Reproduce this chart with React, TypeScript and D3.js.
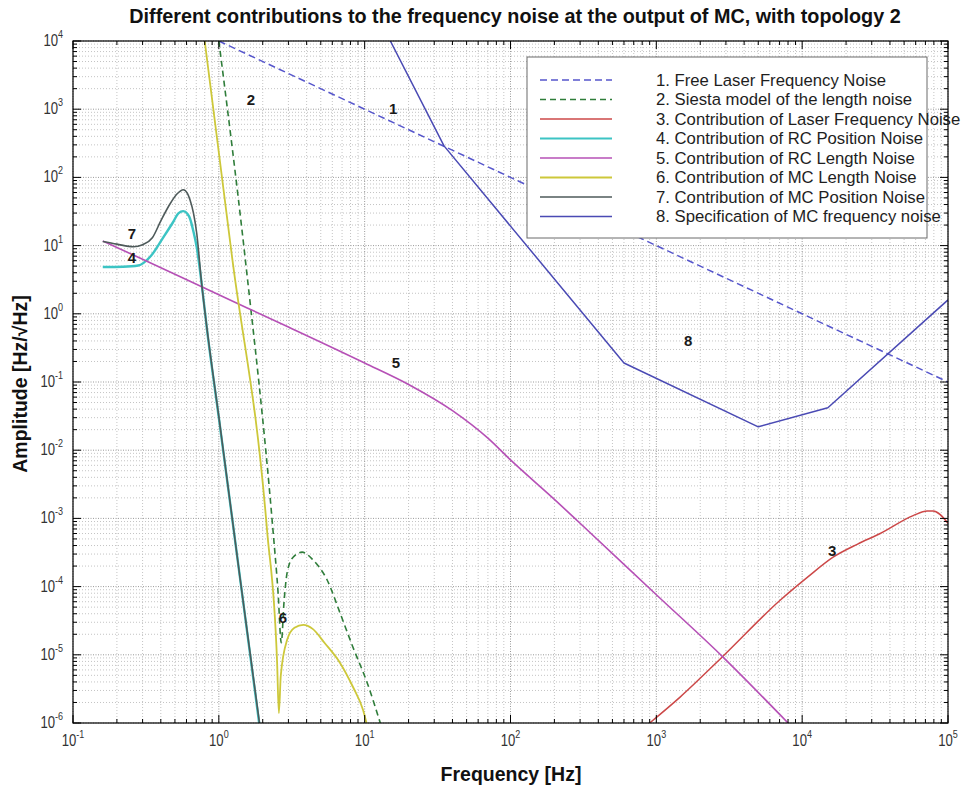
import React from 'react';
import * as d3 from 'd3';

type Pt = [number, number];

// ---- data (frequency [Hz], amplitude [Hz/sqrt(Hz)]) ----
const freeLaserNoise: Pt[] = [[1, 1e4], [10, 1e3], [100, 100], [1e3, 10], [1e4, 1], [1e5, 0.1]];

const siestaLengthNoise: Pt[] = [
  [1.0, 1e4], [1.51, 7], [2.35, 6.8e-4], [2.55, 8e-5], [2.68, 1.5e-5], [2.8, 6e-5],
  [2.94, 1.6e-4], [3.23, 2.7e-4], [3.72, 3.2e-4], [4.43, 2.45e-4], [5.52, 1.26e-4],
  [6.78, 4.1e-5], [8.3, 1.3e-5], [10.4, 3.9e-6], [12.8, 1e-6],
];

const laserFreqContribution: Pt[] = [
  [900, 1e-6], [1455, 2.4e-6], [2830, 9.3e-6], [7060, 6.3e-5], [11000, 1.4e-4],
  [16300, 2.7e-4], [24000, 4.2e-4], [34300, 6.0e-4], [57700, 1.1e-3], [72000, 1.28e-3],
  [79000, 1.28e-3], [1e5, 8.5e-4],
];

const rcPositionContribution: Pt[] = [
  [0.16, 4.85], [0.22, 4.9], [0.28, 5.1], [0.337, 6.8], [0.414, 13], [0.485, 22],
  [0.53, 30], [0.57, 32], [0.61, 29], [0.634, 25], [0.67, 16], [0.705, 9.5],
  [0.762, 2.8], [0.83, 0.58], [1.0, 0.03], [1.4, 1.3e-4], [1.89, 1e-6],
];

const rcLengthContribution: Pt[] = [
  [0.16, 11.7], [0.3, 6.3], [1, 1.9], [3, 0.64], [10, 0.19], [20, 0.092], [40, 0.038],
  [70, 0.015], [100, 7.2e-3], [200, 1.9e-3], [300, 8.5e-4], [1000, 7.6e-5],
  [2830, 9.5e-6], [8000, 1e-6],
];

const mcLengthContribution: Pt[] = [
  [0.8, 1e4], [1.23, 7], [2.14, 6.8e-4], [2.51, 7.6e-6], [2.58, 1.4e-6], [2.66, 5e-6],
  [2.94, 1.66e-5], [3.3, 2.5e-5], [3.8, 2.75e-5], [4.4, 2.4e-5], [5.3, 1.5e-5],
  [6.78, 7.6e-6], [8.3, 3.4e-6], [9.75, 1.55e-6], [10.3, 1e-6],
];

const mcPositionContribution: Pt[] = [
  [0.16, 11.5], [0.2, 10.5], [0.26, 9.6], [0.3, 10.3], [0.35, 13], [0.4, 23],
  [0.46, 40], [0.52, 58], [0.57, 66], [0.61, 58], [0.634, 47], [0.67, 30],
  [0.705, 15.3], [0.762, 2.8], [0.83, 0.6], [1.0, 0.031], [1.4, 1.3e-4], [1.9, 1e-6],
];

const mcSpecification: Pt[] = [
  [15, 1e4], [35, 290], [600, 0.19], [5000, 0.022], [15000, 0.042], [1e5, 1.6],
];

const legendLabels = [
  '1. Free Laser Frequency Noise',
  '2. Siesta model of the length noise',
  '3. Contribution of Laser Frequency Noise',
  '4. Contribution of RC Position Noise',
  '5. Contribution of RC Length Noise',
  '6. Contribution of MC Length Noise',
  '7. Contribution of MC Position Noise',
  '8. Specification of MC frequency noise',
];

const curveTags = ['1', '2', '3', '4', '5', '6', '7', '8'];
const curveTagPoints: Pt[] = [
  [15.7, 1040], [1.66, 1410], [16070, 3.44e-4], [0.254, 6.8],
  [16.4, 0.196], [2.75, 3.47e-5], [0.254, 14.8], [1652, 0.4],
];

const xTickExponents = [-1, 0, 1, 2, 3, 4, 5];
const yTickExponents = [-6, -5, -4, -3, -2, -1, 0, 1, 2, 3, 4];

const titleText = 'Different contributions to the frequency noise at the output of MC, with topology 2';
const xLabel = 'Frequency [Hz]';
const yLabel = 'Amplitude [Hz/\u221AHz]';

// ---- styles ----
const seriesStyle = [
  { data: freeLaserNoise, color: '#5656cc', dash: '7 4', width: 1.5, smooth: false },
  { data: siestaLengthNoise, color: '#2f7d3a', dash: '6 4', width: 1.6, smooth: true },
  { data: laserFreqContribution, color: '#cc4848', dash: null, width: 1.5, smooth: true },
  { data: rcPositionContribution, color: '#3cc4c4', dash: null, width: 2.4, smooth: true },
  { data: rcLengthContribution, color: '#b650b6', dash: null, width: 1.6, smooth: true },
  { data: mcLengthContribution, color: '#cdc83a', dash: null, width: 1.8, smooth: true },
  { data: mcPositionContribution, color: '#4e5a5a', dash: null, width: 1.6, smooth: true },
  { data: mcSpecification, color: '#4a4ab4', dash: null, width: 1.5, smooth: false },
];

const FONT = '"Liberation Sans", Arial, Helvetica, sans-serif';

export default function App() {
  const left = 73, right = 948, top = 41, bottom = 723;
  const x = d3.scaleLog().domain([0.1, 1e5]).range([left, right]);
  const y = d3.scaleLog().domain([1e-6, 1e4]).range([bottom, top]);

  const smoothLine = d3.line<Pt>().x(d => x(d[0])).y(d => y(d[1])).curve(d3.curveMonotoneX);
  const straightLine = d3.line<Pt>().x(d => x(d[0])).y(d => y(d[1]));

  const xMinor: number[] = [];
  for (let e = -1; e < 5; e++) for (let k = 2; k <= 9; k++) xMinor.push(k * Math.pow(10, e));
  const yMinor: number[] = [];
  for (let e = -6; e < 4; e++) for (let k = 2; k <= 9; k++) yMinor.push(k * Math.pow(10, e));
  const xMajor = xTickExponents.map(e => Math.pow(10, e));
  const yMajor = yTickExponents.map(e => Math.pow(10, e));

  const legX = 527, legY = 57, legW = 400, legH = 181;

  return (
    <svg width={966} height={790} style={{ position: 'absolute', left: 0, top: 0, background: '#fff' }}
      fontFamily={FONT}>
      <rect x={0} y={0} width={966} height={790} fill="#fff" />
      <defs>
        <clipPath id="plotClip">
          <rect x={left} y={top} width={right - left} height={bottom - top} />
        </clipPath>
      </defs>

      {/* grid */}
      <g>
        {xMinor.map((v, i) => (
          <line key={'gxm' + i} x1={x(v)} x2={x(v)} y1={top} y2={bottom} stroke="#c4c4c4" strokeWidth={1} strokeDasharray="1 2" />
        ))}
        {yMinor.map((v, i) => (
          <line key={'gym' + i} x1={left} x2={right} y1={y(v)} y2={y(v)} stroke="#c4c4c4" strokeWidth={1} strokeDasharray="1 2" />
        ))}
        {xMajor.map((v, i) => (
          <line key={'gxM' + i} x1={x(v)} x2={x(v)} y1={top} y2={bottom} stroke="#9a9a9a" strokeWidth={1} strokeDasharray="1 1.5" />
        ))}
        {yMajor.map((v, i) => (
          <line key={'gyM' + i} x1={left} x2={right} y1={y(v)} y2={y(v)} stroke="#9a9a9a" strokeWidth={1} strokeDasharray="1 1.5" />
        ))}
      </g>

      {/* curves */}
      <g clipPath="url(#plotClip)" fill="none" strokeLinejoin="round" strokeLinecap="butt">
        {seriesStyle.map((s, i) => (
          <path key={'s' + i} d={(s.smooth ? smoothLine : straightLine)(s.data) || ''}
            stroke={s.color} strokeWidth={s.width} strokeDasharray={s.dash || undefined} />
        ))}
      </g>

      {/* curve tags */}
      {curveTags.map((t, i) => (
        <text key={'tag' + i} x={x(curveTagPoints[i][0])} y={y(curveTagPoints[i][1])}
          textAnchor="middle" dominantBaseline="central" fontSize={15} fontWeight="bold" fill="#1a1a1a">{t}</text>
      ))}

      {/* ticks */}
      <g stroke="#000" strokeWidth={1}>
        {xMinor.map((v, i) => (
          <g key={'txm' + i}>
            <line x1={x(v)} x2={x(v)} y1={bottom} y2={bottom - 4} />
            <line x1={x(v)} x2={x(v)} y1={top} y2={top + 4} />
          </g>
        ))}
        {xMajor.map((v, i) => (
          <g key={'txM' + i}>
            <line x1={x(v)} x2={x(v)} y1={bottom} y2={bottom - 8} />
            <line x1={x(v)} x2={x(v)} y1={top} y2={top + 8} />
          </g>
        ))}
        {yMinor.map((v, i) => (
          <g key={'tym' + i}>
            <line x1={left} x2={left + 4} y1={y(v)} y2={y(v)} />
            <line x1={right} x2={right - 4} y1={y(v)} y2={y(v)} />
          </g>
        ))}
        {yMajor.map((v, i) => (
          <g key={'tyM' + i}>
            <line x1={left} x2={left + 8} y1={y(v)} y2={y(v)} />
            <line x1={right} x2={right - 8} y1={y(v)} y2={y(v)} />
          </g>
        ))}
      </g>
      <rect x={left} y={top} width={right - left} height={bottom - top} fill="none" stroke="#000" strokeWidth={1.2} />

      {/* tick labels */}
      {xTickExponents.map((e, i) => (
        <text key={'xl' + i} transform={`translate(${x(Math.pow(10, e))},746) scale(0.82,1)`}
          textAnchor="middle" fontSize={16} fill="#333">
          10<tspan dy={-8} fontSize={11}>{e}</tspan>
        </text>
      ))}
      {yTickExponents.map((e, i) => (
        <text key={'yl' + i} transform={`translate(63,${y(Math.pow(10, e)) + 5}) scale(0.82,1)`}
          textAnchor="end" fontSize={16} fill="#333">
          10<tspan dy={-8} fontSize={11}>{e}</tspan>
        </text>
      ))}

      {/* legend */}
      <g>
        <rect x={legX} y={legY} width={legW} height={legH} fill="#fff" stroke="#6a6a6a" strokeWidth={1} />
        {legendLabels.map((lab, i) => {
          const s = seriesStyle[i];
          const ry = legY + 23 + i * 19.5;
          return (
            <g key={'lg' + i}>
              <line x1={legX + 13} x2={legX + 85} y1={ry} y2={ry} stroke={s.color}
                strokeWidth={Math.min(s.width, 2)} strokeDasharray={s.dash || undefined} />
              <text x={legX + 129} y={ry + 5.5} fontSize={16.7} fill="#1e1e1e">{lab}</text>
            </g>
          );
        })}
      </g>

      {/* titles */}
      <text x={515} y={23} textAnchor="middle" fontSize={19.8} fontWeight="bold" fill="#111">{titleText}</text>
      <text x={511} y={781} textAnchor="middle" fontSize={19.5} fontWeight="bold" fill="#111">{xLabel}</text>
      <text transform="translate(27,384) rotate(-90)" textAnchor="middle" fontSize={19.5} fontWeight="bold" fill="#111">{yLabel}</text>
    </svg>
  );
}
